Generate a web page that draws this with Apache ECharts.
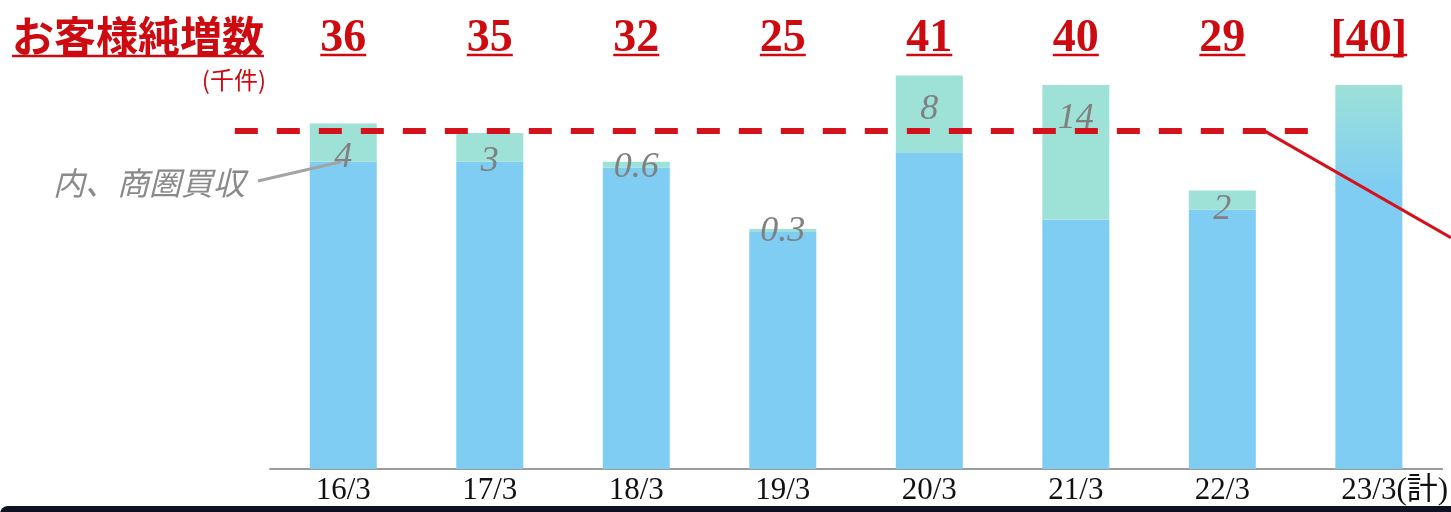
<!DOCTYPE html>
<html>
<head>
<meta charset="utf-8">
<script src="https://cdn.jsdelivr.net/npm/echarts@6/dist/echarts.min.js"></script>
<style>
  html, body { margin: 0; padding: 0; background: #ffffff; }
  #chart { width: 1451px; height: 512px; }
</style>
</head>
<body>
<div id="chart"></div>
<script>
// Fiscal years (March year-end); the last one is the plan
const categories = ['16/3', '17/3', '18/3', '19/3', '20/3', '21/3', '22/3', '23/3(計)'];
// Net customer increase, thousands
const totals = [36, 35, 32, 25, 41, 40, 29, 40];
const totalLabels = ['36', '35', '32', '25', '41', '40', '29', '[40]'];
// Of which: added through trade-area acquisitions (none broken out for the plan year)
const acquired = [4, 3, 0.6, 0.3, 8, 14, 2, null];
// Reference level drawn as the dashed red line
const referenceLevel = 35.2;
// Dashed line extent, in category-index units
const referenceFrom = -0.74;
const referenceTo = 6.6;
// Falling red line: [category index, value] start and end
const trendFrom = [6.29, 35.2];
const trendTo = [7.56, 24.1];

const RED = '#cc0a10';
const LINE_RED = '#d3121b';
const BLUE = '#80cdf3';
const TEAL = '#9de1d7';
const GREY = '#808080';
const SERIF = '"Liberation Serif", "Noto Sans CJK JP", serif';
const JP = '"Noto Sans CJK JP", sans-serif';

const organic = totals.map((t, i) => acquired[i] == null ? t : +(t - acquired[i]).toFixed(2));

function textWidth(text, font) {
  const ctx = document.createElement('canvas').getContext('2d');
  ctx.font = font;
  return ctx.measureText(text).width;
}

const axisFontSize = 31;
const suffixWidth = textWidth('(計)', axisFontSize + 'px ' + SERIF);

const chart = echarts.init(document.getElementById('chart'), null, { renderer: 'canvas' });

function organicData() {
  return organic.map((v, i) => {
    if (acquired[i] != null) return v;
    return {
      value: v,
      itemStyle: {
        color: new echarts.graphic.LinearGradient(0, 0, 0, 1, [
          { offset: 0, color: TEAL },
          { offset: 0.26, color: BLUE },
          { offset: 1, color: BLUE }
        ])
      }
    };
  });
}

const baseOption = {
  animation: false,
  backgroundColor: '#ffffff',
  grid: { left: 270, right: 8, top: 37, bottom: 43 },
  xAxis: {
    type: 'category',
    data: categories,
    axisLine: { lineStyle: { color: '#9b9b9b', width: 2 } },
    axisTick: { show: false },
    axisLabel: {
      interval: 0,
      color: '#111111',
      fontSize: axisFontSize,
      fontFamily: SERIF,
      margin: 6,
      formatter: v => {
        const k = v.indexOf('(');
        if (k < 0) return v;
        return '{pad|}' + v.slice(0, k) + '{sfx|' + v.slice(k) + '}';
      },
      rich: {
        pad: { width: suffixWidth },
        sfx: { fontSize: axisFontSize, fontFamily: SERIF, color: '#111111' }
      }
    }
  },
  yAxis: { type: 'value', min: 0, max: 45, show: false },
  series: [
    {
      name: 'organic',
      type: 'bar',
      stack: 'net',
      barWidth: 67,
      itemStyle: { color: BLUE },
      data: organicData()
    },
    {
      name: 'acquired',
      type: 'bar',
      stack: 'net',
      barWidth: 67,
      itemStyle: { color: TEAL },
      data: acquired.map(v => v == null ? '-' : v)
    }
  ]
};

chart.setOption(baseOption);

const yAt = v => chart.convertToPixel({ yAxisIndex: 0 }, v);
const c0 = chart.convertToPixel({ xAxisIndex: 0 }, 0);
const step = chart.convertToPixel({ xAxisIndex: 0 }, 1) - c0;
const xAt = f => c0 + f * step;
const pxPerUnit = yAt(0) - yAt(1);

// Acquisition labels: near the top of tall segments, on the boundary for thin ones
const acquiredData = acquired.map(v => {
  if (v == null) return '-';
  const h = v * pxPerUnit;
  const centre = Math.min(34, h);
  return {
    value: v,
    label: {
      show: true,
      position: 'inside',
      offset: [0, centre - h / 2],
      formatter: String(v),
      color: GREY,
      fontFamily: SERIF,
      fontStyle: 'italic',
      fontSize: 36
    }
  };
});

const graphics = [];

// Title with underline
const titleFont = 'bold 42px ' + JP;
const titleText = 'お客様純増数';
const titleW = textWidth(titleText, titleFont);
graphics.push({
  type: 'text', x: 12, y: 36, z: 100,
  style: { text: titleText, font: titleFont, fill: RED, align: 'left', verticalAlign: 'middle', textAlign: 'left', textVerticalAlign: 'middle' }
});
graphics.push({
  type: 'line', z: 100,
  shape: { x1: 12, y1: 56, x2: 12 + titleW, y2: 56 },
  style: { stroke: RED, lineWidth: 2.5 }
});
graphics.push({
  type: 'text', x: 266, y: 80, z: 100,
  style: { text: '(千件)', font: '24px ' + JP, fill: RED, align: 'right', verticalAlign: 'middle', textAlign: 'right', textVerticalAlign: 'middle' }
});

// Totals above each column, underlined
const valueFont = 'bold 46px ' + SERIF;
totalLabels.forEach((t, i) => {
  const x = xAt(i);
  const w = textWidth(t, valueFont);
  graphics.push({
    type: 'text', x: x, y: 39, z: 100,
    style: { text: t, font: valueFont, fill: RED, align: 'center', verticalAlign: 'middle', textAlign: 'center', textVerticalAlign: 'middle' }
  });
  graphics.push({
    type: 'line', z: 100,
    shape: { x1: x - w / 2, y1: 55, x2: x + w / 2, y2: 55 },
    style: { stroke: RED, lineWidth: 2.5 }
  });
});

// Dashed reference level
const refY = Math.round(yAt(referenceLevel));
graphics.push({
  type: 'line', z: 100,
  shape: { x1: xAt(referenceFrom), y1: refY, x2: xAt(referenceTo), y2: refY },
  style: { stroke: LINE_RED, lineWidth: 6, lineDash: [23, 19] }
});

// Falling red line toward the right edge
graphics.push({
  type: 'line', z: 100,
  shape: { x1: xAt(trendFrom[0]), y1: yAt(trendFrom[1]), x2: xAt(trendTo[0]), y2: yAt(trendTo[1]) },
  style: { stroke: LINE_RED, lineWidth: 3 }
});

// Callout for the acquisition share
const calloutY = yAt(organic[0]);
graphics.push({
  type: 'text', x: 245, y: 183, z: 100,
  style: { text: '内、商圏買収', font: 'italic 32px ' + JP, fill: '#8a8a8a', align: 'right', verticalAlign: 'middle', textAlign: 'right', textVerticalAlign: 'middle' }
});
graphics.push({
  type: 'line', z: 100,
  shape: { x1: 258, y1: 181, x2: xAt(0) - 2, y2: calloutY },
  style: { stroke: '#a3a3a3', lineWidth: 3 }
});

// Dark strip along the bottom edge
graphics.push({
  type: 'rect', z: 100,
  shape: { x: 0, y: 506, width: 1460, height: 12, r: [8, 0, 0, 0] },
  style: { fill: '#0e1120' }
});

chart.setOption({
  series: [{ name: 'organic' }, { name: 'acquired', data: acquiredData }],
  graphic: { elements: graphics }
});
</script>
</body>
</html>
